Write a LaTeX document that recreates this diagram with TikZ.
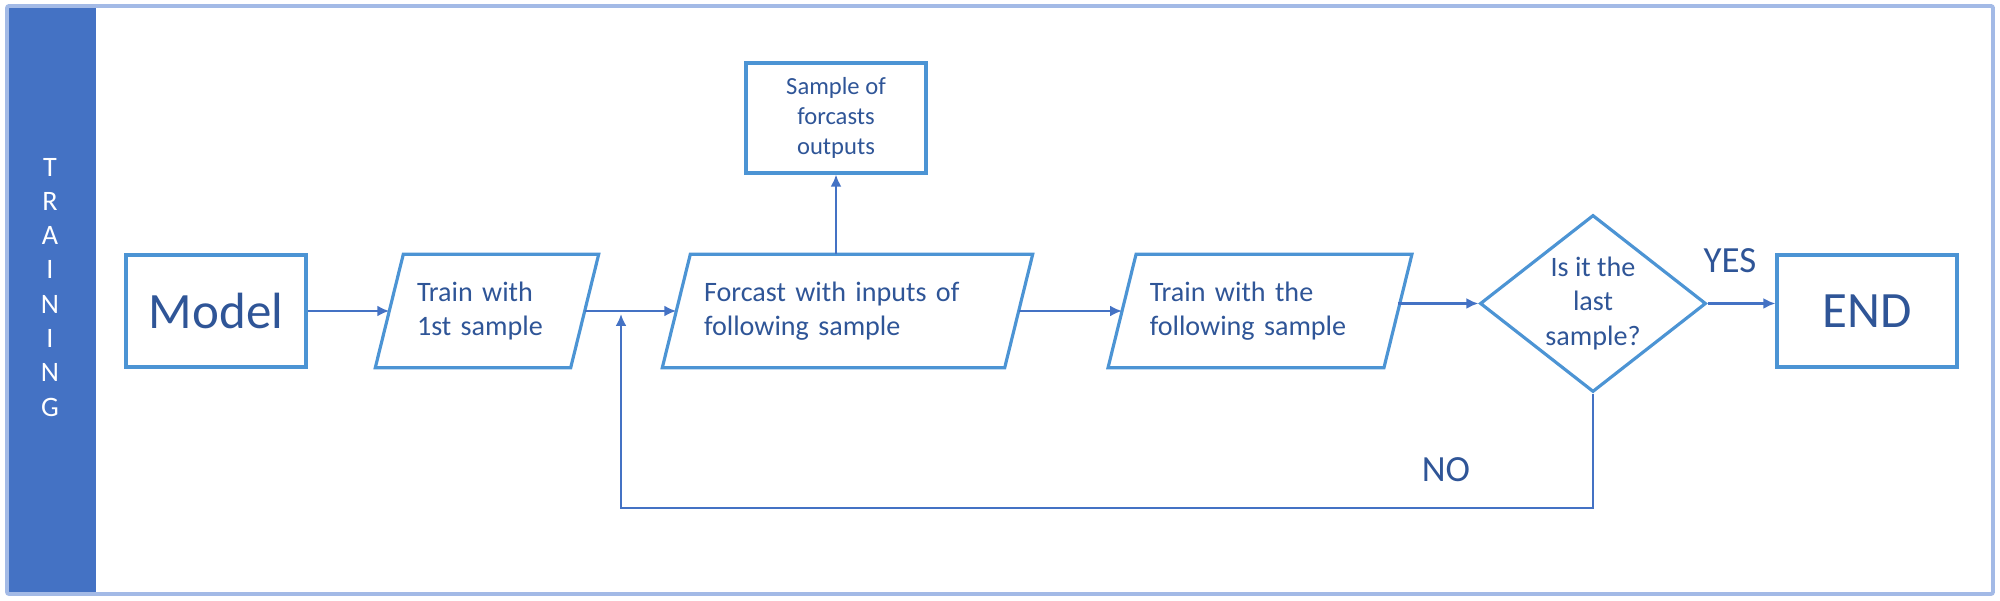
\documentclass[tikz,border=0pt]{standalone}
\usepackage{fontspec}
\setmainfont{Carlito}
\usetikzlibrary{shapes.geometric,arrows.meta}

\definecolor{txtblue}{HTML}{2F5597}
\definecolor{boxblue}{HTML}{4C94D4}
\definecolor{arrblue}{HTML}{4472C4}
\definecolor{frameblue}{HTML}{A3BAE6}

\begin{document}
\begin{tikzpicture}[
        box/.style={draw=boxblue, line width=0.9pt, minimum width=1.8cm, minimum height=1.12cm, inner sep=0pt, text=txtblue},
        para/.style={minimum height=1.12cm, inner xsep=0.27cm, inner ysep=0pt, align=left, text=txtblue, font=\fontsize{8}{9.7}\selectfont},
        outline/.style={draw=boxblue, line width=0.9pt},
        flow/.style={draw=arrblue, line width=0.7pt, -{Latex[length=1.2mm,width=1.1mm]}},
        lbl/.style={text=txtblue, font=\fontsize{10.5}{12}\selectfont},
        letter/.style={text=white, font=\fontsize{8}{9}\selectfont, inner sep=0pt}
    ]
            \useasboundingbox (0, 0) rectangle (20, 6.01);
            \fill[arrblue] (0.07, 0.07) rectangle (0.96, 5.95);
            \draw[frameblue, line width=1.1pt, rounded corners=0.6pt] (0.07, 0.07) rectangle (19.93, 5.95);
            \foreach \c[count=\i] in {T, R, A, I, N, I, N, G} {
                \node[letter] (l\i) at (0.50, 4.683-\i*0.343) {\c};
            }

            \node[box, font=\fontsize{14.5}{16}\selectfont] (model) at (2.16, 2.90) {Model};
            \node[para, text width=1.40cm] (tr1) at (4.87, 2.90) {Train with\\1st sample};
            \node[para, text width=2.87cm] (fcst) at (8.475, 2.90) {Forcast with inputs of\\following sample};
            \node[para, text width=2.205cm] (tfol) at (12.60, 2.90) {Train with the\\following sample};
            \foreach \n in {tr1, fcst, tfol} {
                \draw[outline] ([xshift=0.14cm]\n.north west) -- ([xshift=0.14cm]\n.north east)
                    -- ([xshift=-0.14cm]\n.south east) -- ([xshift=-0.14cm]\n.south west) -- cycle;
            }
            \node[box, minimum height=1.10cm, align=center, font=\fontsize{7}{8.5}\selectfont] (smp) at (8.36, 4.83) {Sample of\\forcasts\\outputs};
            \node[draw=boxblue, line width=0.9pt, diamond, aspect=1.28, inner sep=0pt, minimum width=2.26cm, minimum height=1.77cm,
                text=txtblue, align=center, font=\fontsize{8}{9.7}\selectfont] (dia) at (15.93, 2.975) {Is it the\\last\\sample?};
            \node[box, font=\fontsize{14.5}{16}\selectfont] (endb) at (18.67, 2.90) {END};

            \node[lbl] (yes) at (17.30, 3.40) {YES};
            \node[lbl] (no) at (14.46, 1.31) {NO};

            \coordinate (jn) at (6.21, 2.90);
            \coordinate (loop) at (6.21, 0.93);
            \draw[flow] (model) -- (tr1);
            \draw[flow] (tr1) -- (fcst);
            \draw[flow] (smp |- fcst.north) -- (smp);
            \draw[flow] (fcst) -- (tfol);
            \draw[flow] (tfol.east |- dia) -- (dia);
            \draw[flow] (dia.east) -- (dia.east -| endb.west);
            \draw[flow] (dia.south) |- (loop) -- ([yshift=-0.03cm]jn);
        \end{tikzpicture}
\end{document}
